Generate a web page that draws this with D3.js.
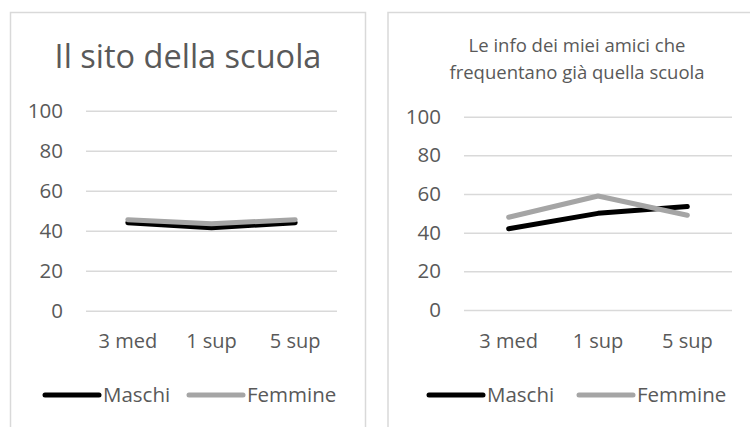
<!DOCTYPE html>
<html>
<head>
<meta charset="utf-8">
<script src="https://cdn.jsdelivr.net/npm/d3@7"></script>
<style>
  html, body { margin: 0; padding: 0; background: #ffffff; }
  svg { display: block; font-family: "Open Sans", sans-serif; }
</style>
</head>
<body>
<svg id="chart" width="750" height="427"></svg>
<script>
const categories = ["3 med", "1 sup", "5 sup"];
const seriesNames = ["Maschi", "Femmine"];
const seriesColors = ["#000000", "#a5a5a5"];
const yTicks = [0, 20, 40, 60, 80, 100];

const sitoMaschi = [44, 41.5, 44];
const sitoFemmine = [45.5, 43.5, 45.5];
const amiciMaschi = [42, 50, 53.5];
const amiciFemmine = [48, 59, 49];

const leftTitle = ["Il sito della scuola"];
const rightTitle = ["Le info dei miei amici che", "frequentano già quella scuola"];

const svg = d3.select("#chart");
const textColor = "#595959";
const gridColor = "#d9d9d9";

function panel(cfg) {
  const g = svg.append("g");
  g.append("path")
    .attr("d", `M${cfg.bx0},${cfg.by1} V${cfg.by0} H${cfg.bx1} V${cfg.by1}`)
    .attr("fill", "none").attr("stroke", gridColor).attr("stroke-width", 1.5);

  const t = g.append("text")
    .attr("text-anchor", "middle")
    .attr("fill", textColor)
    .style("font-size", cfg.titleSize + "px");
  cfg.title.forEach((line, i) => {
    t.append("tspan").attr("x", cfg.titleX).attr("y", cfg.titleY + i * cfg.titleLH).text(line);
  });

  const x = d3.scaleBand().domain(categories).range([cfg.px0, cfg.px1]);
  const y = d3.scaleLinear().domain([0, 100]).range([cfg.py0, cfg.py1]);

  const yAxis = d3.axisLeft(y).tickValues(yTicks)
    .tickSizeInner(-(cfg.px1 - cfg.px0)).tickSizeOuter(0).tickPadding(23);
  const ya = g.append("g").attr("transform", `translate(${cfg.px0},0)`).call(yAxis);
  ya.select(".domain").remove();
  ya.selectAll(".tick line").attr("stroke", gridColor).attr("stroke-width", 1.5)
    .attr("x1", cfg.px1 - cfg.px0).attr("x2", 0);
  ya.selectAll(".tick text").attr("fill", textColor).style("font-size", "20.5px")
    .style("font-family", "'Open Sans', sans-serif");

  const xAxis = d3.axisBottom(x).tickSize(0).tickPadding(cfg.xPad);
  const xa = g.append("g").attr("transform", `translate(0,${cfg.py0})`).call(xAxis);
  xa.select(".domain").remove();
  xa.selectAll(".tick text").attr("fill", textColor).style("font-size", "20px")
    .style("font-family", "'Open Sans', sans-serif");

  const line = d3.line()
    .x((d, i) => x(categories[i]) + x.bandwidth() / 2)
    .y(d => y(d));

  cfg.series.forEach((vals, si) => {
    g.append("path").datum(vals)
      .attr("d", line)
      .attr("fill", "none")
      .attr("stroke", seriesColors[si])
      .attr("stroke-width", 5)
      .attr("stroke-linejoin", "round")
      .attr("stroke-linecap", "round");
  });

  seriesNames.forEach((name, si) => {
    const lx = cfg.legendX[si];
    g.append("line")
      .attr("x1", lx).attr("x2", lx + 54)
      .attr("y1", cfg.legendY).attr("y2", cfg.legendY)
      .attr("stroke", seriesColors[si]).attr("stroke-width", 5)
      .attr("stroke-linecap", "round");
    g.append("text")
      .attr("x", lx + 58).attr("y", cfg.legendY)
      .attr("dy", "0.35em")
      .attr("fill", textColor)
      .style("font-size", "20.5px")
      .text(name);
  });
}

panel({
  bx0: 10.5, bx1: 365.5, by0: 12.5, by1: 430,
  title: leftTitle, titleX: 188, titleY: 68, titleLH: 0, titleSize: 32.5,
  px0: 86, px1: 337, py0: 310.7, py1: 110.7, xPad: 23,
  series: [sitoMaschi, sitoFemmine],
  legendX: [45, 189], legendY: 395
});

panel({
  bx0: 388, bx1: 760, by0: 12.5, by1: 430,
  title: rightTitle, titleX: 577, titleY: 52, titleLH: 26.5, titleSize: 18.5,
  px0: 464, px1: 732, py0: 310, py1: 116.7, xPad: 24,
  series: [amiciMaschi, amiciFemmine],
  legendX: [429, 579], legendY: 395
});
</script>
</body>
</html>
